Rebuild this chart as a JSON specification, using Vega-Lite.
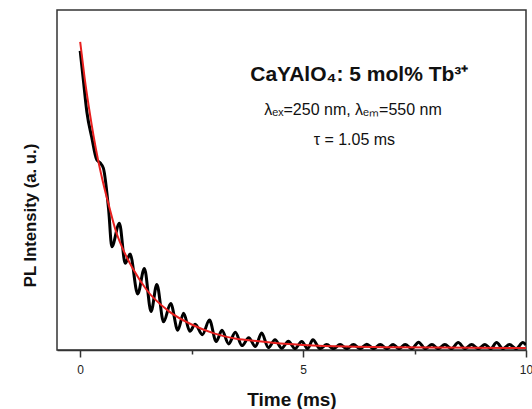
{
  "$schema": "https://vega.github.io/schema/vega-lite/v6.json",
  "width": 469,
  "height": 340,
  "autosize": {"type": "none"},
  "padding": {"left": 57, "top": 10, "right": 6, "bottom": 59},
  "background": "white",
  "config": {
    "view": {"stroke": "#333", "strokeWidth": 1.5},
    "font": "Liberation Sans",
    "axis": {"grid": false, "domainColor": "#333", "tickColor": "#333", "domainWidth": 1.5, "tickWidth": 1.5, "labelFont": "Liberation Sans", "titleFont": "Liberation Sans", "labelColor": "#222", "titleColor": "#111"}
  },
  "datasets": {
    "black": [
      {"t": 0.0, "v": 88}, {"t": 0.07, "v": 79.5}, {"t": 0.15, "v": 70}, {"t": 0.26, "v": 62.5}, {"t": 0.37, "v": 56},
      {"t": 0.45, "v": 55}, {"t": 0.52, "v": 53.5}, {"t": 0.64, "v": 41}, {"t": 0.71, "v": 30.4}, {"t": 0.88, "v": 37.3},
      {"t": 1.01, "v": 25.5}, {"t": 1.12, "v": 28.2}, {"t": 1.29, "v": 16.5}, {"t": 1.44, "v": 24}, {"t": 1.59, "v": 11.3},
      {"t": 1.72, "v": 19.3}, {"t": 1.87, "v": 8.3}, {"t": 2.03, "v": 13.7}, {"t": 2.19, "v": 5.8}, {"t": 2.32, "v": 10.8},
      {"t": 2.46, "v": 5.5}, {"t": 2.58, "v": 7.6}, {"t": 2.74, "v": 4.5}, {"t": 2.9, "v": 8.8}, {"t": 3.05, "v": 2.5},
      {"t": 3.18, "v": 5.8}, {"t": 3.33, "v": 1.8}, {"t": 3.48, "v": 5.2}, {"t": 3.63, "v": 1.3}, {"t": 3.78, "v": 3.6},
      {"t": 3.93, "v": 1.0}, {"t": 4.07, "v": 5.0}, {"t": 4.22, "v": 0.7}, {"t": 4.37, "v": 3.0}, {"t": 4.52, "v": 0.5},
      {"t": 4.67, "v": 2.6}, {"t": 4.82, "v": 0.4}, {"t": 4.97, "v": 2.5}, {"t": 5.1, "v": 0.4}, {"t": 5.22, "v": 3.0},
      {"t": 5.38, "v": 0.4}, {"t": 5.53, "v": 1.6}, {"t": 5.68, "v": 0.4}, {"t": 5.83, "v": 1.6}, {"t": 5.98, "v": 0.4},
      {"t": 6.13, "v": 1.6}, {"t": 6.28, "v": 0.4}, {"t": 6.43, "v": 1.7}, {"t": 6.58, "v": 0.4}, {"t": 6.73, "v": 1.6},
      {"t": 6.88, "v": 0.4}, {"t": 7.02, "v": 1.6}, {"t": 7.15, "v": 0.4}, {"t": 7.29, "v": 1.6}, {"t": 7.44, "v": 0.4},
      {"t": 7.59, "v": 2.3}, {"t": 7.74, "v": 0.4}, {"t": 7.89, "v": 1.6}, {"t": 8.03, "v": 0.4}, {"t": 8.18, "v": 1.6},
      {"t": 8.33, "v": 0.4}, {"t": 8.48, "v": 2.2}, {"t": 8.63, "v": 0.4}, {"t": 8.78, "v": 1.6}, {"t": 8.93, "v": 0.4},
      {"t": 9.08, "v": 1.6}, {"t": 9.21, "v": 0.4}, {"t": 9.34, "v": 2.2}, {"t": 9.48, "v": 0.4}, {"t": 9.63, "v": 1.6},
      {"t": 9.78, "v": 0.4}, {"t": 9.93, "v": 2.2}, {"t": 10.0, "v": 1.5}
    ],
    "red": [
      {"t": 0.0, "v": 90.6}, {"t": 0.1, "v": 80}, {"t": 0.2, "v": 71}, {"t": 0.3, "v": 63}, {"t": 0.4, "v": 56},
      {"t": 0.5, "v": 50}, {"t": 0.67, "v": 41.2}, {"t": 0.8, "v": 35}, {"t": 1.0, "v": 28.5}, {"t": 1.2, "v": 23.5},
      {"t": 1.5, "v": 17.5}, {"t": 2.0, "v": 11.3}, {"t": 2.5, "v": 7.5}, {"t": 3.0, "v": 4.9}, {"t": 3.5, "v": 3.3},
      {"t": 4.0, "v": 2.6}, {"t": 4.5, "v": 1.9}, {"t": 5.0, "v": 1.5}, {"t": 6.0, "v": 1.0}, {"t": 7.0, "v": 0.8},
      {"t": 8.0, "v": 0.7}, {"t": 10.0, "v": 0.6}
    ],
    "notes": [
      {"t": 6.26, "v": 79.1, "label": "CaYAlO₄: 5 mol% Tb³⁺", "kind": "head"},
      {"t": 6.12, "v": 69.1, "label": "λₑₓ=250 nm, λₑₘ=550 nm", "kind": "sub"},
      {"t": 6.15, "v": 60.3, "label": "τ = 1.05 ms", "kind": "sub"}
    ]
  },
  "layer": [
    {
      "data": {"name": "black"},
      "mark": {"type": "line", "color": "#000", "strokeWidth": 3, "interpolate": "monotone", "clip": true},
      "encoding": {
        "x": {"field": "t", "type": "quantitative", "scale": {"domain": [-0.52, 10], "nice": false, "zero": false},
          "axis": {"orient": "bottom", "values": [0, 2.5, 5, 7.5, 10],
            "tickSize": {"condition": {"test": "datum.value % 5 != 0", "value": 4}, "value": 7},
            "labelExpr": "datum.value % 5 == 0 ? datum.label : ''",
            "labelFontSize": 12, "labelPadding": 16, "labelBaseline": "alphabetic", "labelFlush": false, "labelOverlap": false,
            "title": "Time (ms)", "titleFontSize": 19, "titleFontWeight": "bold", "titleBaseline": "alphabetic", "titleY": 55}},
        "y": {"field": "v", "type": "quantitative", "scale": {"domain": [0, 100], "nice": false},
          "axis": {"ticks": false, "labels": false, "domain": false, "title": "PL Intensity (a. u.)", "titleFontSize": 16.7, "titleFontWeight": "bold", "titleBaseline": "alphabetic", "titleAlign": "center", "titleX": -21.5, "titleY": 205, "titleAngle": -90}}
      }
    },
    {
      "data": {"name": "red"},
      "mark": {"type": "line", "color": "#e8201f", "strokeWidth": 2, "interpolate": "monotone", "clip": true},
      "encoding": {
        "x": {"field": "t", "type": "quantitative"},
        "y": {"field": "v", "type": "quantitative"}
      }
    },
    {
      "data": {"name": "notes"},
      "transform": [{"filter": "datum.kind == 'head'"}],
      "mark": {"type": "text", "font": "Liberation Sans", "fontSize": 21, "fontWeight": "bold", "align": "center", "baseline": "alphabetic", "color": "#111"},
      "encoding": {
        "x": {"field": "t", "type": "quantitative"},
        "y": {"field": "v", "type": "quantitative"},
        "text": {"field": "label"}
      }
    },
    {
      "data": {"name": "notes"},
      "transform": [{"filter": "datum.kind == 'sub'"}],
      "mark": {"type": "text", "font": "Liberation Sans", "fontSize": 16, "align": "center", "baseline": "alphabetic", "color": "#111"},
      "encoding": {
        "x": {"field": "t", "type": "quantitative"},
        "y": {"field": "v", "type": "quantitative"},
        "text": {"field": "label"}
      }
    }
  ]
}
